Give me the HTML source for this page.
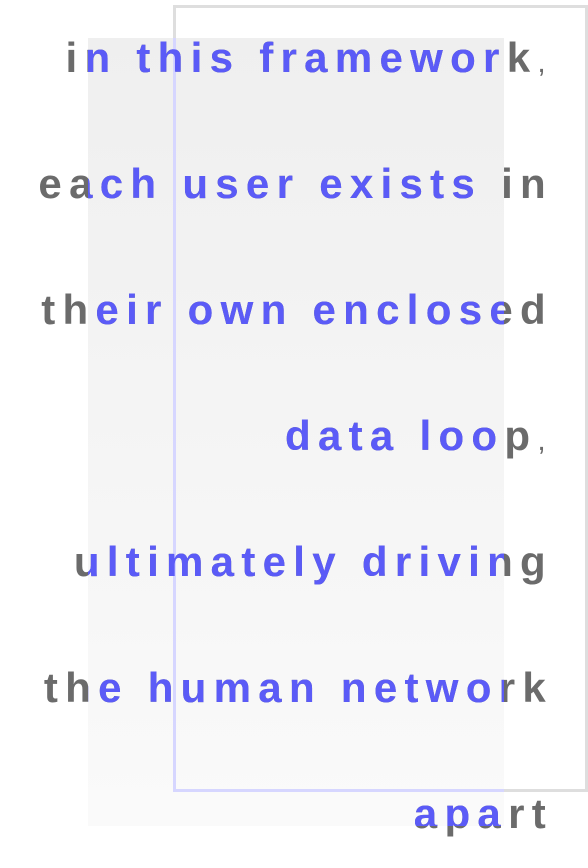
<!DOCTYPE html>
<html><head><meta charset="utf-8"><style>
html,body{margin:0;padding:0;background:#fff;}
#stage{position:relative;width:588px;height:868px;overflow:hidden;font-family:"Liberation Sans",sans-serif;}
.bgrect{position:absolute;left:88px;top:38px;width:416px;height:788px;background:linear-gradient(#efefef,#fafafa);}
.frame{position:absolute;left:173px;top:5px;width:409px;height:781px;border:3px solid #dedede;}
.layer{position:absolute;left:0;top:0;width:588px;height:868px;}
.line{position:absolute;right:35px;font-size:42px;line-height:40px;font-weight:bold;letter-spacing:7.3px;white-space:nowrap;color:#6b6b6b;}
.blue .line{color:#5b5bf7;}
.blue{clip-path:inset(38px 84px 42px 88px);}
.blue .frame{border-color:#d6d6ff;}
.c{color:#6b6b6b !important;font-weight:normal;font-size:30px;}
</style></head><body>
<div id="stage">
  <div class="bgrect"></div>
  <div class="layer">
    <div class="frame"></div>
    <div class="line" style="top:38px">in this framework<span class="c">,</span></div>
    <div class="line" style="top:164px">each user exists in</div>
    <div class="line" style="top:290px">their own enclosed</div>
    <div class="line" style="top:416px">data loop<span class="c">,</span></div>
    <div class="line" style="top:542px">ultimately driving</div>
    <div class="line" style="top:668px">the human network</div>
    <div class="line" style="top:794px">apart</div>
  </div>
  <div class="layer blue">
    <div class="frame"></div>
    <div class="line" style="top:38px">in this framework<span class="c">,</span></div>
    <div class="line" style="top:164px">each user exists in</div>
    <div class="line" style="top:290px">their own enclosed</div>
    <div class="line" style="top:416px">data loop<span class="c">,</span></div>
    <div class="line" style="top:542px">ultimately driving</div>
    <div class="line" style="top:668px">the human network</div>
    <div class="line" style="top:794px">apart</div>
  </div>
</div>
</body></html>
